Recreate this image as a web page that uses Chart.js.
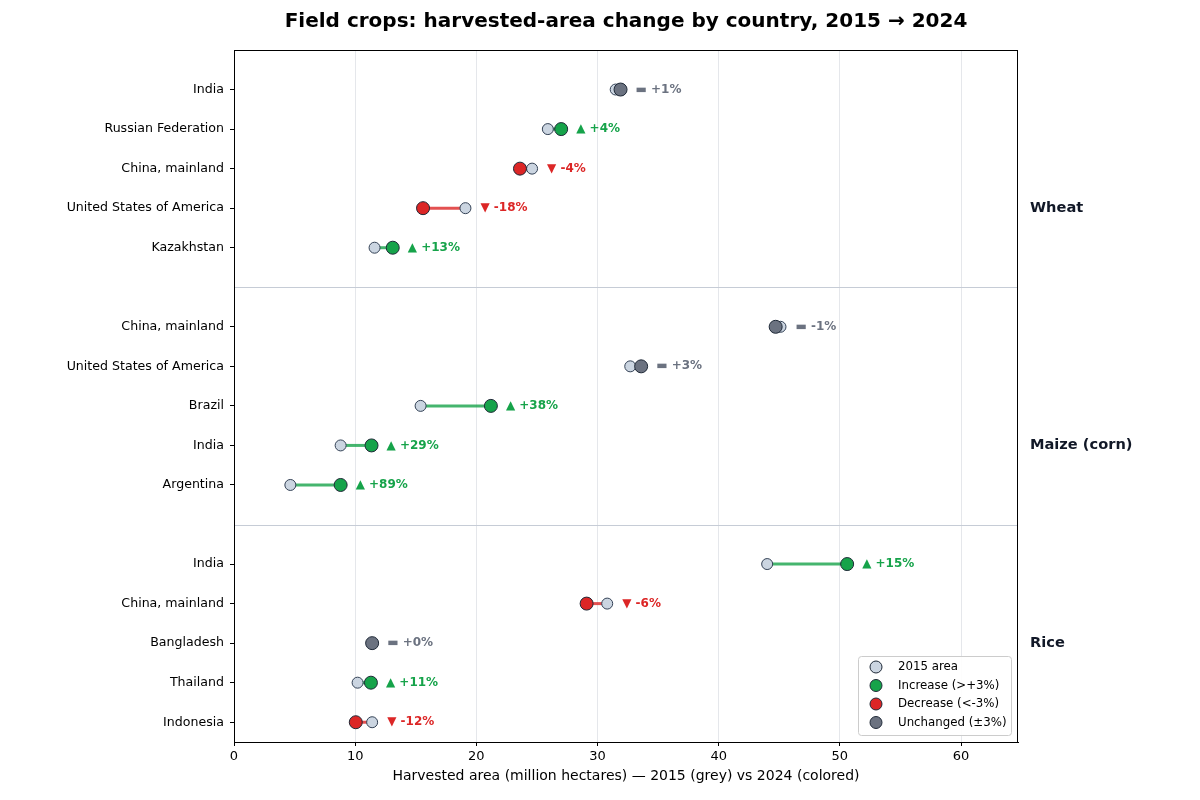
<!DOCTYPE html>
<html>
<head>
<meta charset="utf-8">
<script src="https://cdn.jsdelivr.net/npm/chart.js@4.4.1/dist/chart.umd.min.js"></script>
<style>
  body { margin: 0; background: #fff; }
</style>
</head>
<body>
<canvas id="chart" width="1200" height="800"></canvas>
<script>
// data
const crops = ["Wheat", "Maize (corn)", "Rice"];
const countries = [
  ["India", "Russian Federation", "China, mainland", "United States of America", "Kazakhstan"],
  ["China, mainland", "United States of America", "Brazil", "India", "Argentina"],
  ["India", "China, mainland", "Bangladesh", "Thailand", "Indonesia"],
];
const area2015 = [
  [31.5, 25.9, 24.6, 19.1, 11.6],
  [45.1, 32.7, 15.4, 8.8, 4.65],
  [44.0, 30.8, 11.4, 10.2, 11.4],
];
const area2024 = [
  [31.9, 27.0, 23.6, 15.6, 13.1],
  [44.7, 33.6, 21.2, 11.35, 8.8],
  [50.6, 29.1, 11.4, 11.3, 10.05],
];
// row where each crop name sits on the right side
const cropLabelRow = [4, 10, 15];
const xTicks = [0, 10, 20, 30, 40, 50, 60];

const FONT = "'DejaVu Sans', sans-serif";
const GREY15 = "#cbd5e1";
const COLORS = { up: "#16a34a", down: "#dc2626", flat: "#6b7280" };
const LINE_COLORS = { up: "rgba(22,163,74,0.8)", down: "rgba(220,38,38,0.8)", flat: "rgba(107,114,128,0.8)" };
const SYMBOLS = { up: "\u25B2", down: "\u25BC", flat: "\u25AC" };

// flatten into rows; each crop block takes 6 slots (5 countries + gap)
const rows = [];
crops.forEach((crop, g) => {
  countries[g].forEach((name, i) => {
    const a = area2015[g][i];
    const b = area2024[g][i];
    const pct = Math.round((b - a) / a * 100);
    const status = pct > 3 ? "up" : pct < -3 ? "down" : "flat";
    rows.push({ y: g * 6 + i + 1, name, a, b, pct, status });
  });
});

const connectorSets = rows.map(r => ({
  type: "line",
  data: [{ x: r.a, y: r.y }, { x: r.b, y: r.y }],
  borderColor: LINE_COLORS[r.status],
  borderWidth: 3,
  pointRadius: 0,
  order: 3,
}));

const pointSet = (label, status, color) => ({
  type: "scatter",
  label,
  data: rows.filter(r => r.status === status).map(r => ({ x: r.b, y: r.y })),
  backgroundColor: color,
  borderColor: "#1f2937",
  borderWidth: 1,
  pointRadius: 6.5,
  order: 0,
});

const datasets = [
  ...connectorSets,
  {
    type: "scatter",
    label: "2015 area",
    data: rows.map(r => ({ x: r.a, y: r.y })),
    backgroundColor: GREY15,
    borderColor: "#334155",
    borderWidth: 1,
    pointRadius: 5.5,
    order: 1,
  },
  pointSet("Increase (>+3%)", "up", COLORS.up),
  pointSet("Decrease (<-3%)", "down", COLORS.down),
  pointSet("Unchanged (\u00B13%)", "flat", COLORS.flat),
];

const legendItems = [
  { text: "2015 area", color: GREY15 },
  { text: "Increase (>+3%)", color: COLORS.up },
  { text: "Decrease (<-3%)", color: COLORS.down },
  { text: "Unchanged (\u00B13%)", color: COLORS.flat },
];

const extras = {
  id: "extras",
  afterDatasetsDraw(chart) {
    const { ctx, chartArea, scales: { x, y } } = chart;
    ctx.save();
    // group separators
    ctx.strokeStyle = "#c6ccd6";
    ctx.lineWidth = 1;
    [6, 12].forEach(v => {
      const py = Math.round(y.getPixelForValue(v)) + 0.5;
      ctx.beginPath();
      ctx.moveTo(chartArea.left, py);
      ctx.lineTo(chartArea.right, py);
      ctx.stroke();
    });
    // change labels
    ctx.font = "bold 12px " + FONT;
    ctx.textBaseline = "middle";
    ctx.textAlign = "left";
    rows.forEach(r => {
      const px = x.getPixelForValue(Math.max(r.a, r.b)) + 15;
      const py = y.getPixelForValue(r.y);
      const sign = r.pct >= 0 ? "+" : "-";
      ctx.fillStyle = COLORS[r.status];
      ctx.fillText(SYMBOLS[r.status] + " " + sign + Math.abs(r.pct) + "%", px, py);
    });
    ctx.restore();
  },
  afterDraw(chart) {
    const { ctx, chartArea, scales: { y } } = chart;
    ctx.save();
    // frame
    ctx.strokeStyle = "#000";
    ctx.lineWidth = 1;
    ctx.strokeRect(Math.round(chartArea.left) + 0.5, Math.round(chartArea.top) + 0.5,
      Math.round(chartArea.right - chartArea.left) - 1, Math.round(chartArea.bottom - chartArea.top));
    // title
    ctx.fillStyle = "#000";
    ctx.font = "bold 20px " + FONT;
    ctx.textAlign = "center";
    ctx.textBaseline = "middle";
    ctx.fillText("Field crops: harvested-area change by country, 2015 \u2192 2024",
      (chartArea.left + chartArea.right) / 2, 22);
    // crop labels on the right
    ctx.font = "bold 14.6px " + FONT;
    ctx.fillStyle = "#111827";
    ctx.textAlign = "left";
    crops.forEach((c, g) => {
      ctx.fillText(c, chartArea.right + 12, y.getPixelForValue(cropLabelRow[g]));
    });
    // legend
    const w = 153, h = 79;
    const lx = chartArea.right - 7 - w, ly = chartArea.bottom - 7 - h;
    ctx.fillStyle = "rgba(255,255,255,0.9)";
    ctx.strokeStyle = "#cccccc";
    ctx.beginPath();
    ctx.roundRect(lx + 0.5, ly + 0.5, w, h, 3);
    ctx.fill();
    ctx.stroke();
    ctx.font = "11.8px " + FONT;
    legendItems.forEach((it, i) => {
      const cy = ly + 11 + i * 18.5;
      ctx.beginPath();
      ctx.arc(lx + 18, cy, 6, 0, Math.PI * 2);
      ctx.fillStyle = it.color;
      ctx.fill();
      ctx.strokeStyle = "#1f2937";
      ctx.stroke();
      ctx.fillStyle = "#000";
      ctx.fillText(it.text, lx + 40, cy);
    });
    ctx.restore();
  },
};

new Chart(document.getElementById("chart"), {
  data: { datasets },
  options: {
    responsive: false,
    animation: false,
    layout: { padding: { top: 50, right: 182, left: 0, bottom: 0 } },
    plugins: { legend: { display: false }, tooltip: { enabled: false } },
    scales: {
      x: {
        type: "linear",
        min: 0,
        max: 64.7,
        afterBuildTicks: s => { s.ticks = xTicks.map(v => ({ value: v })); },
        afterFit: s => { s.height = 58; },
        ticks: { color: "#000", font: { family: FONT, size: 13 }, padding: 3 },
        grid: { color: "#e5e7eb", tickColor: "#000", tickLength: 4 },
        border: { color: "#000" },
        title: {
          display: true,
          text: "Harvested area (million hectares) \u2014 2015 (grey) vs 2024 (colored)",
          color: "#000",
          font: { family: FONT, size: 14 },
          padding: { top: 0, bottom: 15 },
        },
      },
      y: {
        type: "linear",
        min: 0,
        max: 17.5,
        reverse: true,
        afterBuildTicks: s => { s.ticks = rows.map(r => ({ value: r.y })); },
        afterFit: s => { s.width = 234; },
        ticks: {
          autoSkip: false,
          color: "#000",
          font: { family: FONT, size: 12.6 },
          padding: 6,
          callback: v => (rows.find(r => r.y === v) || {}).name || "",
        },
        grid: { drawOnChartArea: false, tickColor: "#000", tickLength: 4 },
        border: { color: "#000" },
      },
    },
  },
  plugins: [extras],
});
</script>
</body>
</html>
